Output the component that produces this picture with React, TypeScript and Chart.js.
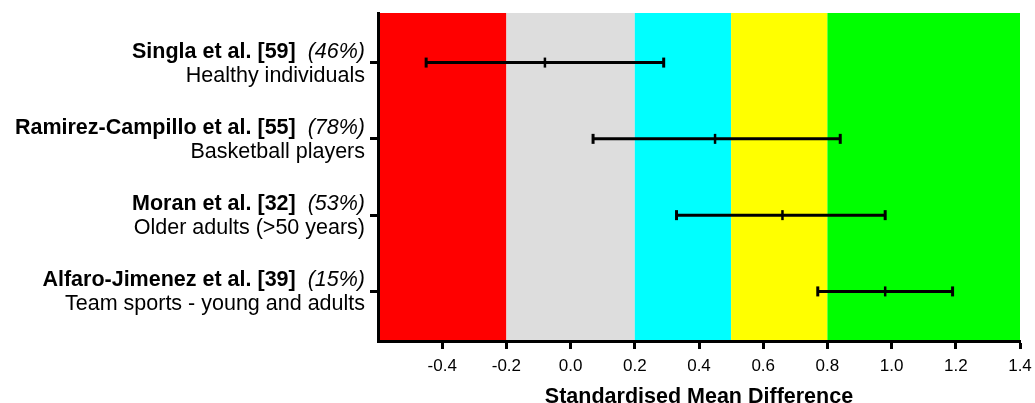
import React, { useEffect, useRef } from 'react';
import { Chart, registerables } from 'chart.js';

Chart.register(...registerables);

const studies = ['Singla et al. [59]', 'Ramirez-Campillo et al. [55]', 'Moran et al. [32]', 'Alfaro-Jimenez et al. [39]'];
const weights = ['(46%)', '(78%)', '(53%)', '(15%)'];
const populations = ['Healthy individuals', 'Basketball players', 'Older adults (>50 years)', 'Team sports - young and adults'];
const smd = [-0.08, 0.45, 0.66, 0.98];
const ciLower = [-0.45, 0.07, 0.33, 0.77];
const ciUpper = [0.29, 0.84, 0.98, 1.19];
const bandEdges = [-0.6, -0.2, 0.2, 0.5, 0.8, 1.4];
const bandColors = ['#FF0000', '#DDDDDD', '#00FFFF', '#FFFF00', '#00FF00'];
const xTicks = [-0.4, -0.2, 0.0, 0.2, 0.4, 0.6, 0.8, 1.0, 1.2, 1.4];
const xTitle = 'Standardised Mean Difference';

const FONT = '"Liberation Sans", Arial, sans-serif';

const bandsPlugin = {
  id: 'bands',
  beforeDraw(chart: any) {
    const { ctx, chartArea, scales } = chart;
    const x = scales.x;
    ctx.save();
    for (let i = 0; i < bandColors.length; i++) {
      const x0 = x.getPixelForValue(bandEdges[i]);
      const x1 = x.getPixelForValue(bandEdges[i + 1]);
      ctx.fillStyle = bandColors[i];
      ctx.fillRect(x0, chartArea.top, x1 - x0, chartArea.bottom - chartArea.top);
    }
    ctx.restore();
  },
};

const labelsPlugin = {
  id: 'rowLabels',
  afterDraw(chart: any) {
    const { ctx, scales } = chart;
    const y = scales.y;
    const xr = 365;
    ctx.save();
    ctx.fillStyle = '#000';
    ctx.textAlign = 'right';
    ctx.textBaseline = 'alphabetic';
    studies.forEach((s, i) => {
      const py = y.getPixelForValue(i);
      ctx.font = `italic 21.5px ${FONT}`;
      const w = ctx.measureText(weights[i]).width;
      ctx.fillText(weights[i], xr, py - 5);
      ctx.font = `bold 21.5px ${FONT}`;
      ctx.fillText(s + '  ', xr - w, py - 5);
      ctx.font = `21.5px ${FONT}`;
      ctx.fillText(populations[i], xr, py + 19);
    });
    ctx.restore();
  },
};

export default function App() {
  const ref = useRef<HTMLCanvasElement>(null);
  useEffect(() => {
    if (!ref.current) return;
    const ciSets = studies.map((s, i) => ({
      label: s,
      data: [
        { x: ciLower[i], y: i },
        { x: ciUpper[i], y: i },
      ],
      showLine: true,
      borderColor: '#000',
      borderWidth: 3,
      pointStyle: 'line',
      pointRotation: 90,
      pointRadius: 5,
      pointBorderWidth: 3,
      pointBorderColor: '#000',
      pointBackgroundColor: '#000',
    }));
    const chart = new Chart(ref.current, {
      type: 'scatter',
      data: {
        datasets: [
          ...ciSets,
          {
            label: 'SMD',
            data: smd.map((v, i) => ({ x: v, y: i })),
            pointStyle: 'line',
            pointRotation: 90,
            pointRadius: 5,
            pointBorderWidth: 2.5,
            pointBorderColor: '#000',
            borderColor: '#000',
          },
        ] as any,
      },
      options: {
        animation: false,
        responsive: false,
        layout: { padding: { top: 13, right: 15, left: 0, bottom: 0 } },
        plugins: { legend: { display: false }, tooltip: { enabled: false } },
        scales: {
          x: {
            type: 'linear',
            min: -0.6,
            max: 1.4,
            afterBuildTicks: (sc: any) => {
              sc.ticks = xTicks.map((v) => ({ value: v }));
            },
            afterFit: (sc: any) => {
              sc.height = 62;
              sc.paddingRight = 0;
              sc.paddingLeft = 0;
            },
            grid: { drawOnChartArea: false, drawTicks: true, tickLength: 8, tickWidth: 3, tickColor: '#000' },
            border: { display: true, color: '#000', width: 3 },
            ticks: {
              color: '#000',
              font: { family: FONT, size: 17 },
              padding: 7,
              maxRotation: 0,
              callback: (v: any) => Number(v).toFixed(1),
            },
            title: {
              display: true,
              text: xTitle,
              color: '#000',
              font: { family: FONT, size: 21.5, weight: 'bold', lineHeight: 1 },
              padding: { top: 0, bottom: -5 },
            },
          },
          y: {
            type: 'linear',
            min: -0.65,
            max: 3.65,
            reverse: true,
            afterBuildTicks: (sc: any) => {
              sc.ticks = studies.map((_, i) => ({ value: i }));
            },
            afterFit: (sc: any) => {
              sc.width = 378;
            },
            grid: { drawOnChartArea: false, drawTicks: true, tickLength: 8, tickWidth: 3, tickColor: '#000' },
            border: { display: true, color: '#000', width: 3 },
            ticks: { display: false },
          },
        },
      } as any,
      plugins: [bandsPlugin, labelsPlugin],
    });
    return () => chart.destroy();
  }, []);
  return (
    <div style={{ position: 'absolute', left: 0, top: 0, width: 1035, height: 403 }}>
      <canvas ref={ref} width={1035} height={403} />
    </div>
  );
}
